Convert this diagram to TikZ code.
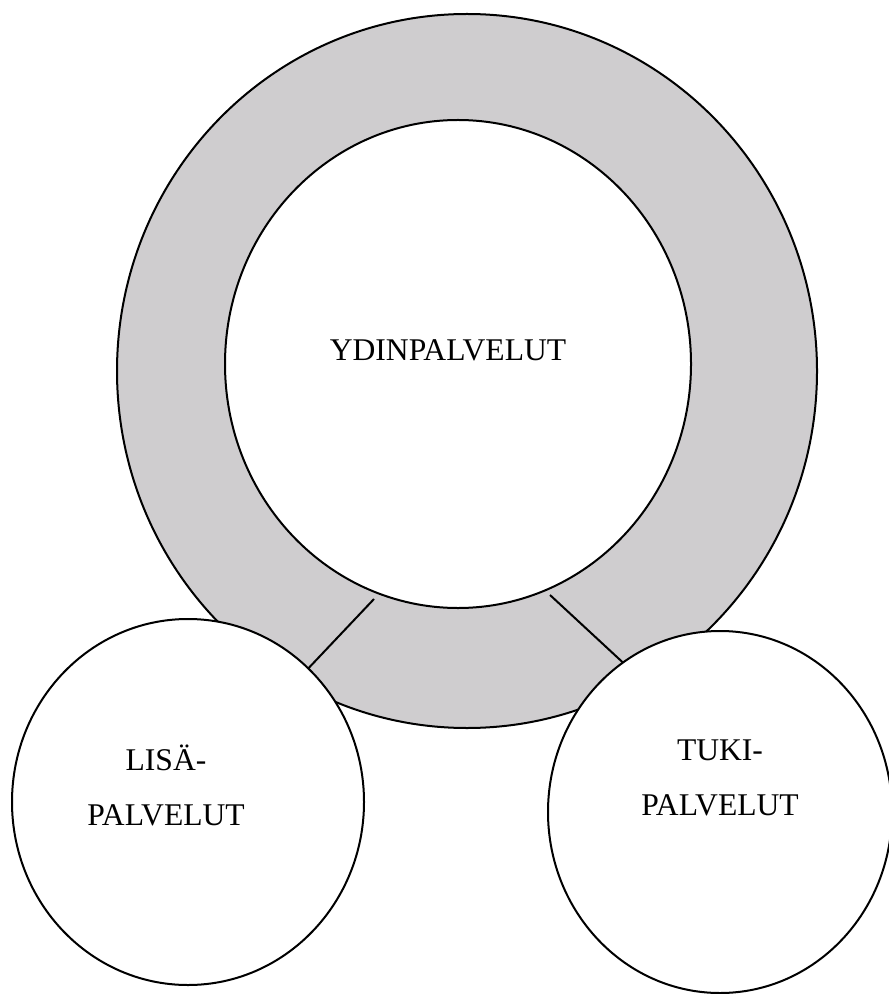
\documentclass[tikz,border=0pt]{standalone}
\usepackage{fontspec}
\setmainfont{Liberation Serif}
\usepackage{xcolor}
\usepackage{tikz}
\usetikzlibrary{shapes.geometric}
\definecolor{rengas}{RGB}{207,205,207}

\begin{document}
\begin{tikzpicture}[x=0.5pt, y=-0.5pt,
		kehys/.style={draw, ellipse, line width=1pt, inner sep=0pt, outer sep=0pt, fill=white},
		teksti/.style={font=\fontsize{15.8}{27.5}\selectfont, align=center, anchor=base}]
		\useasboundingbox (0,0) rectangle (888,994);
		\draw
		node[kehys, fill=rengas, minimum width=350pt, minimum height=357pt] at (467,371) (ulko) {}
		node[kehys, minimum width=233pt, minimum height=244pt] at (458,364) (ydin) {};
		\coordinate (v1) at (374,599);
		\coordinate (v2) at (550,595);
		\draw[line width=1pt]
		node[kehys, minimum width=176pt, minimum height=183pt] at (188,802) (lisa) {}
		node[kehys, minimum width=172pt, minimum height=181pt] at (720,812) (tuki) {}
		(v1) -- (lisa.48.8)
		(v2) -- (tuki.123.3);
		\draw
		node[teksti] at (448,360) (ydint) {YDINPALVELUT}
		node[teksti] at (166,825) (lisat) {LISÄ-\\PALVELUT}
		node[teksti] at (720,815) (tukit) {TUKI-\\PALVELUT};
\end{tikzpicture}
\end{document}
